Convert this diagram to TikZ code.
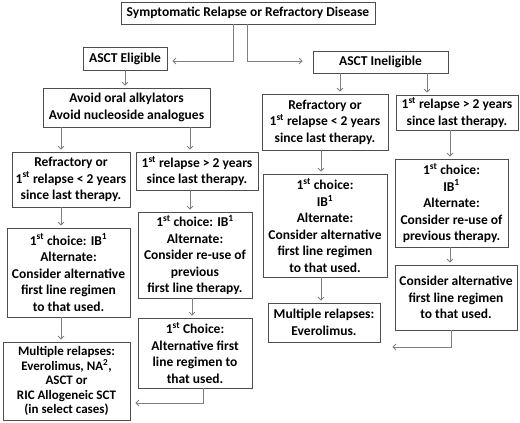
\documentclass[tikz,border=0pt]{standalone}
\usepackage{fontspec}
\setmainfont{Carlito}
\usetikzlibrary{arrows.meta}

\definecolor{boxgray}{HTML}{4D4D4D}
\definecolor{linegray}{HTML}{808080}

\begin{document}
\begin{tikzpicture}
[every node/.style={rectangle,draw=boxgray,line width=0.8pt,align=center,inner sep=0pt,
font=\fontsize{13.5}{16.5}\selectfont\bfseries},x=1pt,y=-1pt,
arr/.style={draw=linegray,line width=0.8pt,-{Straight Barb[length=3pt,width=6pt]}}]

\useasboundingbox (0,0) rectangle (520,423);

% top and the two branches
\node[minimum width=254pt,minimum height=22pt] (Relapse) at (248,13) {Symptomatic Relapse or Refractory Disease};
\node[minimum width=84pt,minimum height=23pt] (Eligible) at (125,58.5) {ASCT Eligible};
\node[minimum width=135pt,minimum height=22pt] (Ineligible) at (380.5,62) {ASCT Ineligible};

% eligible side
\node[minimum width=167pt,minimum height=39pt] (Avoid) at (126.5,107.5) {Avoid oral alkylators\\Avoid nucleoside analogues};
\node[minimum width=118pt,minimum height=55pt] (RefrE) at (71,179.5) {Refractory or\\1\textsuperscript{st} relapse < 2 years\\since last therapy.};
\node[minimum width=122pt,minimum height=38pt] (LateE) at (197,171) {1\textsuperscript{st} relapse > 2 years\\since last therapy.};
\node[minimum width=123pt,minimum height=89pt] (ChoiceRefrE) at (68.5,272.5) {1\textsuperscript{st} choice: IB\textsuperscript{1}\\Alternate:\\Consider alternative\\first line regimen\\to that used.};
\node[minimum width=114pt,minimum height=86pt] (ChoiceLateE) at (195,255) {1\textsuperscript{st} choice: IB\textsuperscript{1}\\Alternate:\\Consider re-use of\\previous\\first line therapy.};
\node[minimum width=114pt,minimum height=70pt] (AltLateE) at (195,353) {1\textsuperscript{st} Choice:\\Alternative first\\line regimen to\\that used.};
\node[minimum width=127pt,minimum height=78pt,font=\fontsize{13}{14.5}\selectfont\bfseries] (MultiE) at (66.5,381) {Multiple relapses:\\Everolimus, NA\textsuperscript{2},\\ASCT or\\RIC Allogeneic SCT\\(in select cases)};

% ineligible side
\node[minimum width=126pt,minimum height=56pt] (RefrI) at (325,122) {Refractory or\\1\textsuperscript{st} relapse < 2 years\\since last therapy.};
\node[minimum width=122pt,minimum height=35pt] (LateI) at (457,112.5) {1\textsuperscript{st} relapse > 2 years\\since last therapy.};
\node[minimum width=124pt,minimum height=103pt] (ChoiceRefrI) at (325,225.5) {1\textsuperscript{st} choice:\\IB\textsuperscript{1}\\Alternate:\\Consider alternative\\first line regimen\\to that used.};
\node[minimum width=113pt,minimum height=88pt] (ChoiceLateI) at (451.5,203) {1\textsuperscript{st} choice:\\IB\textsuperscript{1}\\Alternate:\\Consider re-use of\\previous therapy.};
\node[minimum width=122pt,minimum height=65pt] (AltLateI) at (456,297.5) {Consider alternative\\first line regimen\\to that used.};
\node[minimum width=112pt,minimum height=39pt] (MultiI) at (324,322.5) {Multiple relapses:\\Everolimus.};

\draw[arr] ([xshift=-15pt]Relapse.south) |- ([xshift=5pt,yshift=-2.5pt]Eligible.east);
\draw[arr] ([xshift=-1pt]Relapse.south) |- ([xshift=-10pt,yshift=1pt]Ineligible.west);

\draw[arr] (Eligible.south) -- ([yshift=2pt]Eligible.south |- Avoid.north);
\draw[arr] ([xshift=-10pt]RefrE.north |- Avoid.south) -- ([xshift=-10pt,yshift=2pt]RefrE.north);
\draw[arr] ([xshift=-7pt]LateE.north |- Avoid.south) -- ([xshift=-7pt,yshift=2pt]LateE.north);
\draw[arr] ([xshift=-5pt]ChoiceLateE.north |- LateE.south) -- ([xshift=-5pt,yshift=2pt]ChoiceLateE.north);
\draw[arr] ([xshift=-7.5pt]ChoiceRefrE.north |- RefrE.south) -- ([xshift=-7.5pt,yshift=2pt]ChoiceRefrE.north);
\draw[arr] ([xshift=-3pt]AltLateE.north |- ChoiceLateE.south) -- ([xshift=-3pt,yshift=2pt]AltLateE.north);
\draw[arr] ([xshift=-5.5pt]MultiE.north |- ChoiceRefrE.south) -- ([xshift=-5.5pt,yshift=2pt]MultiE.north);
\draw[arr] ([xshift=8pt]AltLateE.south) |- ([xshift=5pt,yshift=-22pt]MultiE.east);

\draw[arr] ([xshift=-40.5pt]Ineligible.south) -- ([xshift=15pt,yshift=2pt]RefrI.north);
\draw[arr] ([xshift=46.5pt]Ineligible.south) -- ([xshift=-30pt,yshift=2pt]LateI.north);
\draw[arr] ([xshift=-4pt]ChoiceRefrI.north |- RefrI.south) -- ([xshift=-4pt,yshift=2pt]ChoiceRefrI.north);
\draw[arr] ([xshift=-3pt]MultiI.north |- ChoiceRefrI.south) -- ([xshift=-3pt,yshift=2pt]MultiI.north);
\draw[arr] ([xshift=-1.5pt]ChoiceLateI.north |- LateI.south) -- ([xshift=-1.5pt,yshift=2pt]ChoiceLateI.north);
\draw[arr] ([xshift=-6pt]AltLateI.north |- ChoiceLateI.south) -- ([xshift=-6pt,yshift=2pt]AltLateI.north);
\draw[arr] ([xshift=-5pt]AltLateI.south) |- ([xshift=12pt,yshift=-24.5pt]MultiI.east);
\end{tikzpicture}
\end{document}
